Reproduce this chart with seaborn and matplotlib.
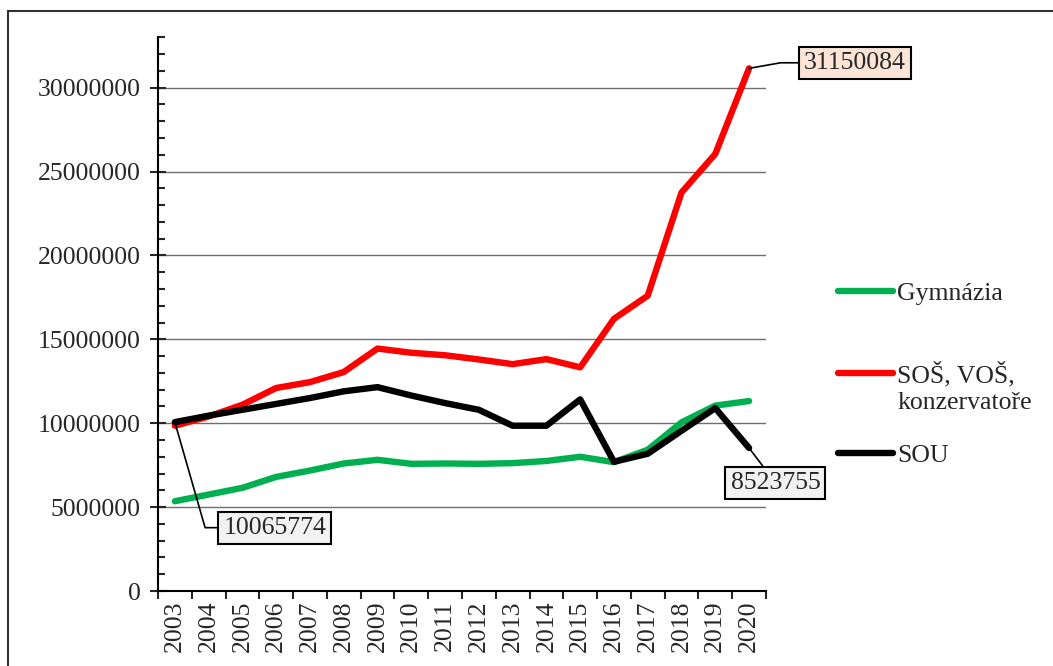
import numpy as np
import pandas as pd
import seaborn as sns
import matplotlib.pyplot as plt
from matplotlib.ticker import MultipleLocator, FixedLocator
from matplotlib.patches import Rectangle

years = [str(y) for y in range(2003, 2021)]
gymnazia = [5350000, 5750000, 6150000, 6800000, 7180000, 7600000, 7820000, 7580000, 7600000,
            7580000, 7620000, 7750000, 8000000, 7680000, 8420000, 10050000, 11050000, 11320000]
sos_vos = [9850000, 10400000, 11100000, 12100000, 12450000, 13050000, 14450000, 14200000, 14050000,
           13800000, 13520000, 13820000, 13330000, 16220000, 17600000, 23750000, 26050000, 31150084]
sou = [10065774, 10450000, 10800000, 11150000, 11500000, 11900000, 12150000, 11650000, 11200000,
       10800000, 9850000, 9850000, 11420000, 7700000, 8180000, 9550000, 10900000, 8523755]

series_names = ['Gymnázia', 'SOŠ, VOŠ,\nkonzervatoře', 'SOU']
colors = ['#00b050', '#ff0000', '#000000']

df = pd.DataFrame({'rok': years * 3,
                   'hodnota': gymnazia + sos_vos + sou,
                   'typ': np.repeat(series_names, len(years))})

sns.set_style('white')
plt.rcParams['font.family'] = ['Liberation Serif', 'DejaVu Serif']
fs = 18.5
plt.rcParams['font.size'] = fs

fig = plt.figure(figsize=(10.53, 6.66), dpi=100)
ax = fig.add_axes([0.150, 0.1126, 0.5774, 0.8314])

sns.lineplot(data=df, x='rok', y='hodnota', hue='typ', hue_order=series_names,
             palette=colors, linewidth=4.6, ax=ax, legend=True)

ax.set_xlim(-0.5, len(years) - 0.5)
ax.set_ylim(0, 33000000)
ax.set_xlabel('')
ax.set_ylabel('')

# osa y
ax.yaxis.set_major_locator(MultipleLocator(5000000))
ax.yaxis.set_minor_locator(MultipleLocator(1000000))
ax.ticklabel_format(axis='y', style='plain', useOffset=False)
ax.tick_params(axis='y', which='major', direction='inout', length=11, width=1.5, pad=7, left=True)
ax.tick_params(axis='y', which='minor', direction='in', length=5, width=1.5, left=True)
ax.grid(axis='y', which='major', color='#6f6f6f', linewidth=1)

# osa x
ax.set_xticks(range(len(years)))
ax.set_xticklabels(years, rotation=90)
ax.xaxis.set_minor_locator(FixedLocator(np.arange(-0.5, len(years))))
ax.tick_params(axis='x', which='major', length=0, pad=7)
ax.tick_params(axis='x', which='minor', direction='out', length=6, width=1.5, bottom=True)

for s in ['top', 'right']:
    ax.spines[s].set_visible(False)
for s in ['left', 'bottom']:
    ax.spines[s].set_color('black')
    ax.spines[s].set_linewidth(1.5)

# popisky hodnot
box = dict(boxstyle='square,pad=0.2', ec='black', lw=1.5)
ax.annotate(f'{sos_vos[-1]}', xy=(len(years) - 1, sos_vos[-1]), xytext=(76, 4),
            textcoords='offset points', ha='center', va='center',
            bbox={**box, 'fc': '#fce4d6'},
            arrowprops=dict(arrowstyle='-', color='black', lw=1.2, shrinkA=0, shrinkB=0,
                            connectionstyle='angle,angleA=0,angleB=10'))
ax.annotate(f'{sou[0]}', xy=(0, sou[0]), xytext=(72, -76),
            textcoords='offset points', ha='center', va='center',
            bbox={**box, 'fc': '#f2f2f2'},
            arrowprops=dict(arrowstyle='-', color='black', lw=1.2, shrinkA=0, shrinkB=0,
                            connectionstyle='angle,angleA=0,angleB=-74'))
ax.annotate(f'{sou[-1]}', xy=(len(years) - 1, sou[-1]), xytext=(19, -25),
            textcoords='offset points', ha='center', va='center',
            bbox={**box, 'fc': '#f2f2f2'},
            arrowprops=dict(arrowstyle='-', color='black', lw=1.2, shrinkA=0, shrinkB=0))

# legenda - kazda polozka zvlast kvuli nestejnym mezeram
handles, labels = ax.get_legend_handles_labels()
ax.get_legend().remove()
leg_y = [0.560, 0.4174, 0.3168]
for h, lab, y in zip(handles, labels, leg_y):
    leg = fig.legend([h], [lab], loc='center left', bbox_to_anchor=(838 / 1053, y),
                     frameon=False, handlelength=2.15, handletextpad=0.15, borderpad=0,
                     borderaxespad=0, fontsize=fs)
    for t in leg.get_texts():
        t.set_linespacing(1.3)
    for line in leg.get_lines():
        line.set_linewidth(4.6)
        line.set_solid_capstyle('round')
        if '\n' in lab:
            line.set_ydata(np.asarray(line.get_ydata()) + 10.5)

# ramecek kolem obrazku
fig.patches.append(Rectangle((8 / 1053, -0.1), 1.2, 655 / 666 + 0.1, transform=fig.transFigure,
                             fill=False, ec='#333333', lw=1.5))

fig.savefig('out.png', dpi=100)
